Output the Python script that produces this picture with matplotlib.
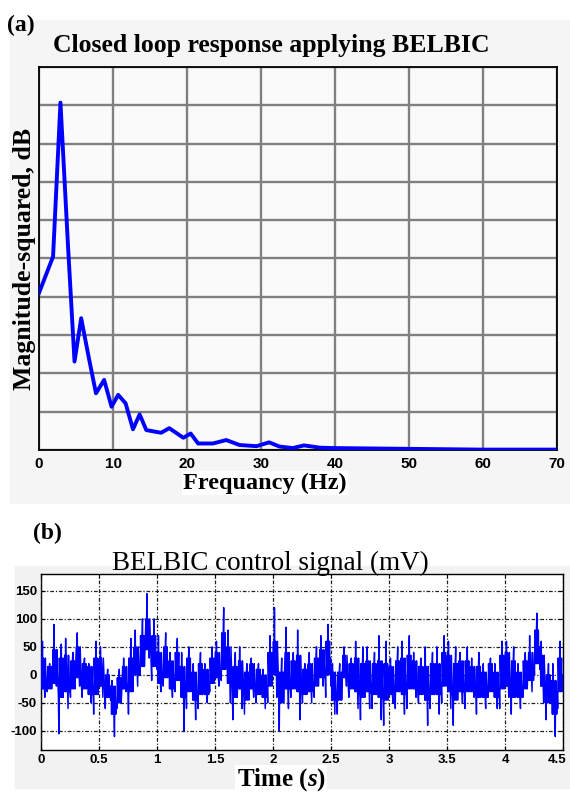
import numpy as np
import matplotlib
matplotlib.use('Agg')
import matplotlib.pyplot as plt
import matplotlib.transforms as mtransforms
from matplotlib.patches import Rectangle

plt.rcParams['mathtext.fontset'] = 'custom'
plt.rcParams['mathtext.it'] = 'Liberation Serif:italic:bold'
plt.rcParams['mathtext.rm'] = 'Liberation Serif:bold'

# (a) spectrum, y in grid units (10 divisions, no labels)
freq = [0, 1.9, 2.9, 3.9, 4.8, 5.7, 6.7, 7.7, 8.8, 9.8, 10.7, 11.7, 12.7, 13.6,
        14.5, 16.5, 17.6, 19.5, 20.5, 21.5, 23.5, 25.3, 27.1, 29.4, 31.1, 32.5,
        34.3, 35.8, 38, 40, 45, 50, 55, 60, 65, 70]
mag = [4.10, 5.05, 9.07, 5.4, 2.31, 3.44, 2.44, 1.48, 1.83, 1.13, 1.44, 1.22,
       0.54, 0.93, 0.52, 0.45, 0.57, 0.32, 0.43, 0.17, 0.17, 0.26, 0.13, 0.10,
       0.20, 0.09, 0.05, 0.12, 0.06, 0.05, 0.04, 0.03, 0.02, 0.01, 0.01, 0.01]
freq_ticks = [0, 10, 20, 30, 40, 50, 60, 70]

# (b) control signal, read per 0.05 s slot (mV):
# spikes up / down, dense band upper / lower edge, band centre
sig_hi = [60, 20, 90, 55, 65, 40, 75, 30, 20, 60,
          50, 10, -10, 10, 30, 65, 80, 100, 145, 100,
          70, 75, 40, 65, 40, 50, 20, 40, 20, 50,
          60, 120, 80, 40, 50, 20, 30, 20, 10, 70,
          120, 30, 85, 40, 80, 20, 40, 50, 70, 90,
          20, 20, 50, 30, 60, 50, 50, 40, 70, 60,
          30, 50, 60, 70, 40, 30, 50, 40, 50, 70,
          60, 50, 40, 50, 30, 40, 20, 30, 20, 60,
          60, 50, 20, 40, 70, 110, 60, 20, 20, 60]
sig_lo = [-40, -30, -20, -105, -60, -40, -20, -40, -50, -70,
          -40, -60, -110, -60, -30, -70, -20, 0, 30, -10,
          -30, -20, -40, -30, -100, -60, -80, -60, -50, -30,
          -20, -10, -50, -80, -60, -70, -40, -50, -60, -50,
          -40, -100, -60, -40, -80, -50, -50, -40, -20, -40,
          -70, -70, -20, -40, -60, -80, -60, -60, -80, -90,
          -50, -60, -70, -60, -40, -50, -90, -60, -70, -50,
          -60, -90, -50, -60, -40, -70, -60, -40, -60, -60,
          -40, -70, -60, -40, -30, 0, -50, -80, -110, -60]
band_up = [30, 15, 45, 30, 35, 25, 50, 20, 15, 30,
           30, 0, -20, -5, 15, 30, 50, 70, 100, 70,
           40, 50, 25, 40, 15, 30, 5, 20, 10, 30,
           40, 75, 50, 15, 25, 5, 20, 10, 0, 40,
           60, 5, 40, 25, 35, 10, 20, 30, 45, 60,
           5, 5, 35, 20, 30, 20, 25, 20, 25, 20,
           15, 25, 30, 35, 25, 15, 15, 20, 20, 40,
           35, 20, 25, 25, 15, 15, 5, 20, 5, 35,
           40, 25, 5, 25, 40, 80, 35, 0, -10, 30]
band_lo = [-25, -25, -15, -40, -30, -25, -5, -25, -35, -35,
           -20, -40, -70, -50, -25, -30, 0, 15, 45, 15,
           -15, -5, -25, -10, -40, -30, -45, -35, -35, -15,
           -5, 10, -15, -40, -25, -45, -25, -35, -40, -20,
           0, -50, -25, -25, -30, -35, -30, -20, -5, 0,
           -45, -45, -5, -25, -30, -40, -30, -35, -40, -45,
           -35, -30, -35, -25, -25, -35, -45, -35, -35, -20,
           -30, -45, -30, -30, -30, -40, -40, -30, -40, -25,
           -20, -40, -40, -25, -10, 20, -20, -50, -70, -30]
sig_mid = [0, -5, 10, 0, 5, 0, 20, 0, -10, 0,
           5, -20, -45, -30, -10, 0, 25, 40, 70, 40,
           10, 20, 0, 15, -10, 0, -20, -10, -15, 5,
           15, 40, 20, -10, 0, -20, -5, -10, -20, 10,
           30, -20, 10, 0, 0, -10, -5, 5, 20, 30,
           -20, -20, 15, 0, 0, -10, 0, -5, -5, -10,
           -10, 0, 0, 5, 0, -10, -15, -5, -5, 10,
           5, -10, -5, 0, -5, -10, -15, -5, -15, 5,
           10, -5, -15, 0, 15, 50, 10, -25, -40, 0]
time_ticks = [0, 0.5, 1, 1.5, 2, 2.5, 3, 3.5, 4, 4.5]
time_labels = ['0', '0.5', '1', '1.5', '2', '2.5', '3', '3.5', '4', '4.5']
sig_ticks = [150, 100, 50, 0, -50, -100]
sig_labels = ['150', '100', '50', '0', '-50', '-100']

sig = []
for i, (h, l, bu, bl, m) in enumerate(zip(sig_hi, sig_lo, band_up, band_lo, sig_mid)):
    if i % 2 == 0:
        sig += [m, bu, bl, h, bl, bu, m, bl, l, bu, m, bl]
    else:
        sig += [bl, l, bu, m, bl, bu, h, bl, m, bu, bl, m]
sig = np.array(sig)
t = np.arange(len(sig)) * 4.5 / len(sig)

W, H = 570, 796
fig = plt.figure(figsize=(W/100, H/100), dpi=100)
fig.patches.append(Rectangle((10/W, 1-503/H), 560/W, 483/H, transform=fig.transFigure,
                             color='#f5f5f5', zorder=-10))
fig.patches.append(Rectangle((15/W, 1-788/H), 555/W, 222/H, transform=fig.transFigure,
                             color='#f2f2f2', zorder=-10))

serif = 'Liberation Serif'
sans = 'Liberation Sans'

# ---- panel (a)
ax1 = fig.add_axes([39/W, 1-450/H, (557-39)/W, (450-67)/H])
ax1.set_facecolor('#fafafa')
ax1.plot(freq, mag, color='#0000ff', lw=2.8, solid_joinstyle='round', zorder=3)
ax1.set_xlim(0, 70)
ax1.set_ylim(0, 10)
ax1.set_xticks(freq_ticks)
ax1.set_yticks(range(11))
ax1.set_yticklabels([])
ax1.tick_params(length=0, pad=5)
for lab in ax1.get_xticklabels():
    lab.set_fontfamily(sans); lab.set_fontweight('bold'); lab.set_fontsize(11)
ax1.grid(True, color='#808080', lw=1.7)
ax1.set_axisbelow(True)
for s in ax1.spines.values():
    s.set_linewidth(1.3)
ax1.set_title('Closed loop response applying BELBIC', fontfamily=serif,
              fontweight='bold', fontsize=18.5, pad=11, x=0.448)
ax1.set_ylabel('Magnitude-squared, dB', fontfamily=serif, fontweight='bold',
               fontsize=18.5, labelpad=-3)
ax1.set_xlabel('Frequancy (Hz)', fontfamily=serif, fontweight='bold', fontsize=17.5,
               labelpad=1, x=0.436,
               bbox=dict(facecolor='white', edgecolor='none', pad=1))
fig.text(7/W, 1-25/H, '(a)', fontfamily=serif, fontweight='bold', fontsize=17,
         va='center', ha='left')

# ---- panel (b)
ax2 = fig.add_axes([41/W, 1-750/H, (563-41)/W, (750-574)/H])
ax2.set_facecolor('white')
ax2.plot(t, sig, color='#0000ff', lw=1.05, zorder=3)
ax2.set_xlim(0, 4.5)
ax2.set_ylim(-134, 180)
ax2.set_xticks(time_ticks)
ax2.set_xticklabels(time_labels)
ax2.set_yticks(sig_ticks)
ax2.set_yticklabels(sig_labels)
ax2.tick_params(direction='in', length=3, top=True, right=True, pad=3)
for lab in ax2.get_xticklabels() + ax2.get_yticklabels():
    lab.set_fontfamily(sans); lab.set_fontweight('bold'); lab.set_fontsize(9.5)
# keep the last time label inside the figure edge
last = ax2.get_xticklabels()[-1]
last.set_transform(last.get_transform() + mtransforms.ScaledTranslation(-6/100, 0, fig.dpi_scale_trans))
ax2.grid(True, color='#222222', lw=0.9, linestyle=(0, (3, 1.5, 1, 1.5)))
ax2.set_axisbelow(False)
for s in ax2.spines.values():
    s.set_linewidth(1.0)
ax2.set_title('BELBIC control signal (mV)', fontfamily=serif, fontsize=19.5,
              pad=3, x=0.439)
ax2.set_xlabel(r'Time ($\mathit{s}$)', fontfamily=serif, fontweight='bold',
               fontsize=18, labelpad=0, x=0.46,
               bbox=dict(facecolor='white', edgecolor='none', pad=1))
fig.text(33/W, 1-533/H, '(b)', fontfamily=serif, fontweight='bold', fontsize=17,
         va='center', ha='left')

fig.savefig('out.png', dpi=100)
